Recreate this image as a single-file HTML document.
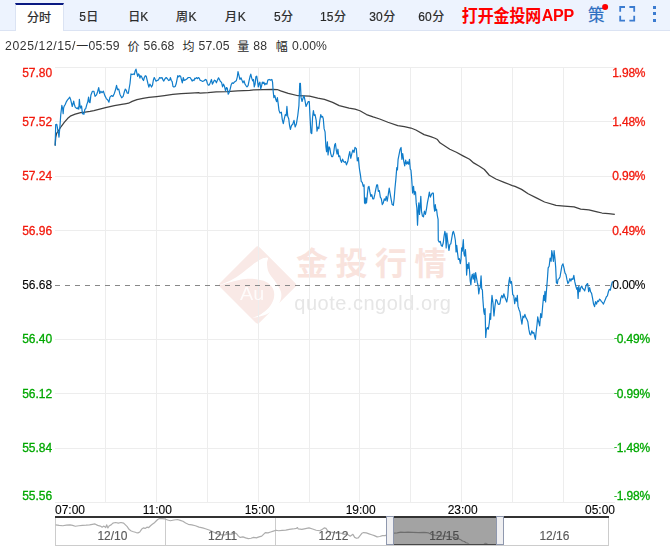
<!DOCTYPE html>
<html lang="zh"><head><meta charset="utf-8"><title>chart</title>
<style>
html,body{margin:0;padding:0;background:#fff}
body{width:670px;height:547px;position:relative;overflow:hidden;font-family:"Liberation Sans","Noto Sans CJK SC",sans-serif}
.hdr{position:absolute;left:0;top:0;width:670px;height:30px;background:#edf3fe;border-bottom:1px solid #dbe3f3}
.tab{position:absolute;left:15px;top:3px;width:47px;height:26px;background:#fff;border:1px solid #dbe3f3;border-top:2px solid #0a1a82;border-bottom:none}
.tl{position:absolute;left:0;top:0;width:670px;height:547px;will-change:transform}
.t{position:absolute;white-space:nowrap;line-height:14px;font-size:12px}
.ax{font-size:12px;-webkit-text-stroke:0.3px}
.hy{font-size:8px;position:relative;top:-2.2px;letter-spacing:0}
.pc{letter-spacing:-0.2px}
.xl{font-size:12px;-webkit-text-stroke:0.1px}
.r{color:#f21a0d} .g{color:#00a800} .k{color:#000;-webkit-text-stroke:0.1px}
.nv{color:#5a5a5a;font-size:12px;-webkit-text-stroke:0.15px}
.sel{color:#4c4c4c}
.hd{color:#2a2a2a;font-size:12px;letter-spacing:0.1px;-webkit-text-stroke:0.2px}
.inf{color:#333;font-size:12.2px;letter-spacing:0.1px;line-height:15px}
.app{color:#f00;font-weight:bold;font-size:16px;line-height:20px;letter-spacing:-0.2px}
.au{color:rgba(255,255,255,0.8);font-size:18px;line-height:18px;transform:scaleX(1.1);transform-origin:0 0}
.wm{color:#e6e6e6;font-size:20px;line-height:22px;letter-spacing:0.5px}
svg text{font-family:"Liberation Sans","Noto Sans CJK SC",sans-serif}
</style></head><body>
<div class="hdr"></div><div class="tab"></div>
<svg width="670" height="547" viewBox="0 0 670 547" style="position:absolute;left:0;top:0">
<g opacity="1">
<rect x="229.53" y="256.93" width="56.14" height="56.14" rx="3" transform="rotate(45 257.6 285)" fill="#f9e9e6"/>
<path d="M219.75 285.07C219.25 284.93 227.37 282.23 230.99 280.28C234.61 278.33 237.99 275.91 241.48 273.38C244.98 270.86 248.73 267.49 251.98 265.14C255.23 262.79 258.72 260.51 260.97 259.29C263.22 258.07 264.3 257.97 265.47 257.79C266.64 257.62 267.77 257.29 268.02 258.24C268.27 259.19 266.84 261.11 266.97 263.49C267.09 265.86 267.39 269.48 268.77 272.48C270.14 275.48 273.22 278.35 275.21 281.48C277.21 284.6 279.84 288.22 280.76 291.22C281.68 294.22 281.56 296.72 280.76 299.47C279.96 302.21 278.39 305.21 275.96 307.71C273.54 310.21 270.02 312.78 266.22 314.46C262.42 316.13 254.05 317.8 253.18 317.76C252.3 317.71 258.37 315.83 260.97 314.16C263.57 312.48 266.64 310.28 268.77 307.71C270.89 305.14 272.94 301.71 273.71 298.72C274.49 295.72 274.41 292.4 273.41 289.72C272.42 287.05 270.17 284.35 267.72 282.68C265.27 281 262.35 280.3 258.72 279.68C255.1 279.05 250.1 278.68 245.98 278.93C241.86 279.18 238.36 280.15 233.99 281.18C229.62 282.2 220.25 285.22 219.75 285.07Z" fill="#fff"/>
</g>
<text x="296" y="275" font-size="32" font-weight="bold" letter-spacing="7.5" fill="#f9e3dd">金投行情</text>
<path d="M55 67.5H614.5M55 121.5H614.5M55 176.5H614.5M55 230.5H614.5M55 339.5H614.5M55 393.5H614.5M55 448.5H614.5M55 502.5H614.5M105.5 67V503M156.5 67V503M207.5 67V503M258.5 67V503M309.5 67V503M359.5 67V503M410.5 67V503M461.5 67V503M512.5 67V503M563.5 67V503" stroke="#ededed" stroke-width="1" fill="none" shape-rendering="crispEdges"/>
<path d="M55 285.5H614.5" stroke="#888" stroke-width="1" stroke-dasharray="5 5" fill="none" shape-rendering="crispEdges"/>
<polyline points="55.15,145.63 55.7,137.74 56.58,133.36 58.22,131.16 60.96,126.78 64.25,122.4 67.53,118.56 70.82,115.82 75.21,114.18 80.68,112.53 85.07,112.21 90,111.44 93.88,110.56 105.58,107.63 114.35,105.73 123.13,104.12 125,103.79 128.58,103.19 132.16,101.4 136.94,99.61 142.91,98.42 148.88,97.46 156.64,96.63 164.4,95.67 172.76,94.48 181.12,93.64 190.67,93.04 199.03,92.69 200,93.16 208.06,92.63 216.12,91.82 226.87,91.55 237.61,90.88 249.7,90.48 253.73,89.94 263.13,89.67 272.54,89.27 277.24,89.54 280.6,90.88 288.23,93.28 298.1,95.74 309.62,96.07 317.84,98.21 324.42,99.36 332.65,102.33 339.23,105.62 349.1,108.08 355,109.11 359.94,110.76 366.52,114.54 373.1,116.85 379.68,118.99 387.91,122.28 397.78,125.57 404.36,126.72 410.94,128.03 415.88,130.01 424.1,134.62 430.69,136.59 435,138.23 437.47,139.54 439.94,142.83 444.87,145.96 449.81,149.25 456.39,152.21 462.97,155.83 469.55,159.29 473.67,162.91 479.42,166.2 484.36,169.49 489.3,175.25 495.88,179.03 504.1,182.32 512.33,185.61 515,186.42 521.57,189.37 528.13,193.81 536.34,197.91 544.55,202.01 556.04,205.3 564.25,206.12 574.1,206.94 580.67,209.07 588.88,209.9 597.09,211.87 602.01,213.01 608.58,213.51 614.82,214.33" fill="none" stroke="#404040" stroke-width="1.25" stroke-linejoin="round"/>
<polyline points="55.15,145.63 55.48,133.36 55.7,124.59 56.79,124.37 57.45,127.88 57.89,131.16 58.33,132.81 58.99,137.19 59.42,132.26 60.08,124.59 60.74,114.73 61.4,109.25 61.84,105.41 62.27,107.05 62.71,109.25 63.15,113.63 63.59,108.15 64.25,105.96 65.34,104.32 66.44,101.58 67.53,99.93 68.85,98.29 69.73,97.19 70.6,99.38 71.37,102.67 72.25,106.51 73.01,103.77 73.67,101.03 74.33,104.32 75.21,107.05 76.3,108.15 77.4,108.7 78.27,107.05 78.82,109.25 79.37,99.38 80.03,105.96 80.68,108.15 81.56,105.96 82.44,113.63 83.97,114.18 84.85,109.25 85.73,108.7 86.71,104.86 87.81,101.58 88.58,97.19 89.23,102.12 90,102.67 90.95,94.91 92.41,91.25 93.88,91.25 95.05,96.37 96.51,94.91 97.53,91.98 98.7,87.59 99.73,93.44 100.9,91.25 101.92,92.71 103.38,91.25 104.84,95.64 106.31,98.56 107.77,100.03 108.94,102.22 109.96,97.1 111.43,95.64 112.89,96.37 114.35,93.44 115.52,89.79 116.54,85.4 117.57,89.79 118.74,89.06 119.91,94.18 121.66,97.83 123.13,96.37 124.3,91.98 125.32,89.06 126.19,90.06 127.15,93.04 128.34,93.28 129.18,88.27 130.01,83.49 130.97,73.94 132.16,74.54 133.36,73.94 134.31,74.54 135.15,70.96 135.99,69.16 136.94,73.34 137.66,76.33 138.37,73.94 139.09,74.54 139.93,78.12 140.76,75.73 141.72,76.93 142.67,79.31 143.51,80.51 144.34,77.52 145.3,75.73 146.25,76.33 147.09,79.91 147.93,83.49 148.88,87.07 149.84,84.09 150.67,85.28 151.51,87.07 152.46,85.28 153.42,79.91 154.25,77.52 155.09,79.31 156.04,81.1 157.24,80.51 158.43,79.91 159.63,77.52 160.82,78.12 162.01,77.52 162.97,79.91 163.81,81.1 165,78.72 166.19,77.52 167.39,78.72 168.58,80.51 169.78,79.91 170.37,77.52 171.33,80.51 172.16,81.7 173,86.48 173.96,87.07 175.15,86.48 176.1,84.09 176.94,79.91 177.78,75.73 178.73,76.93 179.69,75.73 180.64,76.33 181.36,79.31 182.31,82.9 183.27,77.52 184.1,80.51 185.3,79.91 187.09,78.72 188.28,77.52 190.07,77.52 191.27,79.31 192.1,81.1 193.06,79.91 194.01,80.51 194.85,78.12 195.69,78.72 196.64,77.52 197.6,78.72 198.43,77.52 199.27,78.12 200,80.13 201.34,80.81 202.69,81.48 204.03,80.81 205.37,79.46 206.45,80.13 207.39,83.49 208.33,85.1 209.4,84.84 210.48,82.15 211.42,79.46 212.36,84.16 213.43,82.15 214.51,80.13 215.45,80.81 216.39,82.82 217.46,80.13 218.54,77.85 219.48,79.46 220.42,81.48 221.49,82.15 222.57,86.85 223.51,84.16 224.45,86.18 225.52,90.88 226.46,87.52 227.27,88.19 228.21,94.24 229.28,92.22 230.22,88.87 231.16,84.84 232.24,82.82 233.31,83.49 234.25,82.15 235.19,81.48 236.27,80.81 237.34,76.78 238.01,71.67 238.96,75.43 239.9,79.46 240.97,77.85 241.91,80.13 242.99,82.82 244.06,80.81 245,84.16 245.94,85.51 247.01,86.85 248.09,85.51 249.03,80.81 249.97,76.78 250.78,74.09 251.72,78.12 252.66,80.81 253.46,79.46 254.27,86.85 255.07,84.16 255.88,76.78 256.69,76.1 257.49,80.81 258.3,86.85 259.1,83.49 259.91,82.15 260.72,88.87 261.52,86.18 262.33,82.15 263.13,83.49 263.94,82.15 264.75,84.84 265.82,83.49 266.9,84.16 267.84,80.13 269.18,79.46 270.52,80.13 271.87,79.46 272.54,82.15 273.21,91.55 273.88,97.6 274.82,95.58 275.63,98.94 276.57,101.63 277.37,97.6 278.18,103.64 278.99,110.36 280,113.02 281.32,112.2 282.3,119.6 283.29,123.71 284.28,118.78 285.27,114.67 286.25,115.49 286.91,106.44 287.73,116.31 288.72,118.78 289.54,125.36 290.37,129.47 291.52,125.36 292.67,124.54 293.99,120.42 295.14,127.01 296.45,123.71 297.77,115.49 298.92,105.62 299.74,83.4 300.4,83.4 301.06,97.39 302.05,101.5 303.03,98.21 304.02,95.74 305.01,100.68 306,106.44 307.15,103.97 308.3,101.5 309.29,101.5 309.95,115.49 310.93,132.76 311.76,133.59 312.58,117.13 313.4,110.55 314.22,115.49 315.05,114.67 316.2,120.42 317.02,131.12 317.84,127.01 318.83,128.65 319.82,120.42 320.8,114.67 321.63,117.13 322.45,116.31 323.27,118.78 324.1,128.65 325.08,131.94 325.9,146.75 326.56,151.69 327.39,141.81 328.04,154.98 329.03,146.75 329.85,148.39 330.68,153.33 331.66,156.62 332.65,156.62 333.64,153.33 334.63,145.1 335.45,143.46 336.27,150.04 337.09,154.15 337.92,149.22 338.74,156.62 339.73,155.8 340.55,159.91 341.54,162.38 342.52,159.09 343.51,161.56 344.5,162.38 345.48,161.56 346.47,164.85 347.79,161.56 348.78,155.8 349.76,151.69 350.75,158.27 351.9,153.33 352.89,150.04 354.04,152.51 355,147.45 356.32,148.6 357.3,160.94 358.29,157.65 359.28,167.52 359.61,170 360.43,174.94 361.25,181.52 362.24,182.34 363.23,186.45 364.05,184.81 364.54,202.91 365.2,203.73 365.69,197.97 366.52,202.91 367.34,194.68 368.16,187.28 368.99,186.45 369.81,191.39 370.8,196.33 371.78,194.68 372.77,198.79 373.76,198.79 374.74,194.68 375.73,189.74 376.72,184.81 377.54,184.81 378.36,191.39 379.35,190.57 380.34,197.15 381.33,198.79 382.31,204.55 383.3,202.91 384.29,198.79 385.27,200.44 386.26,196.33 387.25,201.26 388.24,194.68 389.22,188.1 390.05,193.03 391.2,199.62 392.18,204.55 393.34,205.37 394.16,198.79 394.98,188.1 395.8,179.87 396.46,171.65 396.79,167.52 397.45,169.99 398.11,159.3 399.1,154.36 400.08,149.42 401.07,147.45 401.89,159.3 402.71,153.54 403.7,160.94 404.69,165.88 405.68,160.12 406.66,164.23 407.65,161.76 408.64,164.23 409.46,159.3 410.28,169.17 410.94,170 411.76,179.87 412.59,193.03 413.57,186.45 414.23,194.68 414.89,191.39 415.55,192.21 416.21,202.91 416.86,207.84 417.52,225.12 418.18,211.13 418.84,202.91 419.5,214.42 420.16,206.2 420.81,196.33 421.47,211.13 422.46,216.07 423.45,216.89 424.43,211.13 425.42,214.42 426.41,209.49 427.39,202.91 428.38,197.97 429.37,192.21 430.36,197.15 431.34,194.68 432.33,193.03 433.32,193.03 433.98,206.2 434.63,211.13 435.29,204.55 435.95,210.31 436.61,209.49 437.27,215.25 438.09,219.36 438.29,240.5 439.28,242.15 440.27,241.33 441.25,245.44 442.24,246.26 443.23,242.97 444.05,236.39 444.87,231.45 445.53,234.74 446.19,247.91 446.85,233.1 447.5,239.68 448.16,244.62 448.99,250.37 449.81,244.62 450.8,243.79 451.78,238.03 452.77,232.28 453.43,231.45 454.41,234.74 455.4,240.5 456.06,252.02 456.72,245.44 457.54,252.84 458.36,259.42 459.35,258.6 460.34,263.54 461,259.42 461.65,247.91 462.31,251.2 463.3,239.68 463.96,253.67 464.62,256.13 465.44,249.55 466.26,261.89 466.59,275.05 467.41,264.36 468.07,268.47 468.89,262.71 469.55,270.94 470.21,280.81 470.87,284.93 471.53,277.52 472.35,274.23 473.17,279.17 473.99,273.41 474.82,282.46 475.64,272.59 476.46,277.52 477.29,282.46 478.11,285.75 478.77,293.98 479.42,289.04 480.25,287.39 481.07,275.88 481.73,289.04 482.39,289.86 482.77,297.91 483.76,311.07 484.41,314.36 485.07,308.6 485.73,337.39 486.39,329.99 487.38,327.52 488.36,329.17 489.35,322.59 490.01,313.54 490.67,319.3 491.33,304.49 491.98,295.44 492.97,302.84 493.96,316.01 494.95,306.13 495.93,299.55 496.92,300.37 497.91,303.67 498.89,304.49 499.88,303.67 500.87,297.91 501.86,295.44 502.84,297.91 503.83,293.79 504.82,297.08 505.8,299.55 506.79,302.02 507.78,296.26 508.44,286.39 509.1,280.63 509.75,277.34 510.41,283.1 511.4,281.45 512.06,286.39 512.71,294.62 513.7,295.44 514.69,303.67 515.68,297.91 516.66,301.2 517.32,295.44 517.98,306.13 518.97,309.42 519.95,311.89 520.94,318.47 521.93,324.23 522.92,316.01 523.9,317.65 524.89,314.36 525.88,317.65 526.86,319.3 527.85,321.76 528.84,329.17 529.83,334.1 530.81,334.93 531.8,330.81 532.79,333.28 533.78,332.46 534.76,336.57 535.42,339.37 536.08,332.46 537.07,324.23 537.72,316.83 538.71,321.76 539.7,325.88 540.69,313.54 541.67,317.65 542.66,306.13 543.65,295.44 544.31,300.37 544.96,291.33 545.62,302.02 546.28,292.97 546.94,284.74 547.5,277.78 548.16,267.91 549.15,266.26 550.14,258.03 551.12,261.33 551.78,250.63 552.77,256.39 553.43,261.33 554.09,250.63 555.07,259.68 555.73,267.91 556.39,282.71 557.38,283.54 558.03,279.42 559.02,278.6 560.01,276.96 561,271.2 561.98,265.44 562.97,263.79 563.96,267.91 564.95,272.84 565.93,274.49 566.92,279.42 567.91,283.54 568.89,281.89 569.88,278.6 570.87,281.07 571.86,278.6 572.84,279.42 573.83,275.31 574.82,281.89 575.8,286.01 576.79,289.3 577.45,287.65 578.11,298.35 578.77,286.01 579.75,291.76 580.74,287.65 581.73,286.01 582.71,288.47 583.7,289.3 584.69,290.94 585.68,286.83 586.66,284.36 587.65,283.54 588.64,291.76 589.63,287.65 590.61,291.76 591.6,293.41 592.59,298.35 593.57,304.1 594.56,306.57 595.55,301.64 596.54,304.1 597.52,300.81 598.51,301.64 599.5,299.17 600.48,299.99 601.47,301.64 602.46,302.46 603.45,304.1 604.43,301.64 605.42,299.17 606.41,296.7 607.39,295.88 608.38,291.76 609.37,289.3 610.36,290.12 611.34,285.18 612.33,281.89 613.65,281.89" fill="none" stroke="#0f7cca" stroke-width="1.2" stroke-linejoin="round"/>
<rect x="55.5" y="517" width="553" height="28.5" fill="#fff" stroke="#ccc" stroke-width="1" shape-rendering="crispEdges"/>
<path d="M165.5 517V545.5" stroke="#ccc" stroke-width="1" shape-rendering="crispEdges"/>
<path d="M275.5 517V545.5" stroke="#ccc" stroke-width="1" shape-rendering="crispEdges"/>
<rect x="394" y="517" width="102.5" height="27.5" fill="#a3a3a3"/>
<path d="M394 544.5H496.5" stroke="#484848" stroke-width="1" shape-rendering="crispEdges"/>
<clipPath id="nc"><rect x="55" y="517" width="554" height="27.0"/></clipPath>
<clipPath id="ns"><rect x="394" y="517" width="102.5" height="26.7"/></clipPath>
<polyline clip-path="url(#nc)" points="55.58,524.85 59.16,525.39 62.75,525.75 66.33,525.21 69.91,524.85 72.6,525.39 75.28,526.28 78.87,525.75 82.45,525.39 86.03,525.21 89.61,524.85 92.3,524.31 94.99,523.96 97.67,525.39 100.36,526.1 102.15,527.18 103.94,526.1 105.73,527.54 106.63,524.85 107.88,527.9 109.31,525.75 111.1,524.85 112.9,523.06 115.58,522.52 118.27,523.06 120.96,522.52 123.64,523.06 125.43,524.85 127.22,526.64 129.01,529.33 130.81,530.76 132.6,531.48 134.39,532.01 136.18,532.55 137.97,532.91 139.76,532.01 141.55,529.33 143.34,527.9 145.13,528.43 146.93,527.18 148.72,527.54 150.51,525.75 152.3,524.31 154.09,523.06 155.88,521.27 157.67,519.48 159.46,518.58 162.15,518.58 164.84,518.94 165,518.94 167.69,520.01 170.37,520.73 173.96,520.01 177.54,519.48 180.22,520.37 182.91,521.27 185.6,523.06 188.28,524.31 191.87,524.85 195.45,525.75 199.03,527.18 202.61,527.9 206.19,528.97 209.78,530.22 213.36,532.01 216.94,533.81 220.52,534.7 224.1,535.06 227.69,533.81 231.27,534.34 234.85,532.91 236.64,533.81 238.43,536.13 240.22,537.39 242.91,536.85 245.6,537.93 248.28,538.64 250.97,538.28 253.66,537.39 256.34,537.93 259.03,536.85 261.72,536.13 263.51,534.34 265.3,532.55 267.99,532.91 270.67,532.01 273.36,531.12 276.04,530.22 278.58,530.76 282.16,530.4 285.75,530.04 289.33,529.33 292.91,528.97 296.49,528.43 297.39,527.54 298.28,528.97 301.87,529.33 305.45,528.61 309.03,527.9 312.61,528.97 316.19,530.22 319.78,530.76 322.46,529.33 324.25,527.9 326.04,528.43 327.84,531.12 330.52,532.01 334.1,532.55 337.69,532.91 341.27,533.27 343.96,534.34 346.64,533.81 348.43,535.06 350.22,536.13 352.91,534.34 354.7,537.39 356.49,538.28 358.28,537.93 360.07,535.6 361.87,533.27 363.66,532.55 366.34,532.91 369.03,533.81 371.72,534.7 374.4,535.6 377.09,536.85 379.78,536.49 382.46,535.6 385.15,535.6 390,533.63 393.58,533.27 397.16,532.91 400.75,532.19 404.33,532.37 407.91,532.19 413.28,532.37 418.66,532.55 424.03,532.37 428.51,532.91 431.19,534.34 434.78,535.06 440.15,535.78 445.52,536.13 450.9,536.85 455.37,537.39 458.06,538.64 460.75,539.72 462.54,540.97 464.33,541.51 466.12,542.76 467.91,543.3 469.7,545.09 474.18,547.24 479.55,546.88 483.13,545.45 484.93,543.3 486.72,543.66 488.15,544.73 492.99,545.81 499.25,545.45 504.63,544.55 509.1,545.09" fill="none" stroke="#adadad" stroke-width="1.2" stroke-linejoin="round"/>
<polyline clip-path="url(#ns)" points="55.58,524.85 59.16,525.39 62.75,525.75 66.33,525.21 69.91,524.85 72.6,525.39 75.28,526.28 78.87,525.75 82.45,525.39 86.03,525.21 89.61,524.85 92.3,524.31 94.99,523.96 97.67,525.39 100.36,526.1 102.15,527.18 103.94,526.1 105.73,527.54 106.63,524.85 107.88,527.9 109.31,525.75 111.1,524.85 112.9,523.06 115.58,522.52 118.27,523.06 120.96,522.52 123.64,523.06 125.43,524.85 127.22,526.64 129.01,529.33 130.81,530.76 132.6,531.48 134.39,532.01 136.18,532.55 137.97,532.91 139.76,532.01 141.55,529.33 143.34,527.9 145.13,528.43 146.93,527.18 148.72,527.54 150.51,525.75 152.3,524.31 154.09,523.06 155.88,521.27 157.67,519.48 159.46,518.58 162.15,518.58 164.84,518.94 165,518.94 167.69,520.01 170.37,520.73 173.96,520.01 177.54,519.48 180.22,520.37 182.91,521.27 185.6,523.06 188.28,524.31 191.87,524.85 195.45,525.75 199.03,527.18 202.61,527.9 206.19,528.97 209.78,530.22 213.36,532.01 216.94,533.81 220.52,534.7 224.1,535.06 227.69,533.81 231.27,534.34 234.85,532.91 236.64,533.81 238.43,536.13 240.22,537.39 242.91,536.85 245.6,537.93 248.28,538.64 250.97,538.28 253.66,537.39 256.34,537.93 259.03,536.85 261.72,536.13 263.51,534.34 265.3,532.55 267.99,532.91 270.67,532.01 273.36,531.12 276.04,530.22 278.58,530.76 282.16,530.4 285.75,530.04 289.33,529.33 292.91,528.97 296.49,528.43 297.39,527.54 298.28,528.97 301.87,529.33 305.45,528.61 309.03,527.9 312.61,528.97 316.19,530.22 319.78,530.76 322.46,529.33 324.25,527.9 326.04,528.43 327.84,531.12 330.52,532.01 334.1,532.55 337.69,532.91 341.27,533.27 343.96,534.34 346.64,533.81 348.43,535.06 350.22,536.13 352.91,534.34 354.7,537.39 356.49,538.28 358.28,537.93 360.07,535.6 361.87,533.27 363.66,532.55 366.34,532.91 369.03,533.81 371.72,534.7 374.4,535.6 377.09,536.85 379.78,536.49 382.46,535.6 385.15,535.6 390,533.63 393.58,533.27 397.16,532.91 400.75,532.19 404.33,532.37 407.91,532.19 413.28,532.37 418.66,532.55 424.03,532.37 428.51,532.91 431.19,534.34 434.78,535.06 440.15,535.78 445.52,536.13 450.9,536.85 455.37,537.39 458.06,538.64 460.75,539.72 462.54,540.97 464.33,541.51 466.12,542.76 467.91,543.3 469.7,545.09 474.18,547.24 479.55,546.88 483.13,545.45 484.93,543.3 486.72,543.66 488.15,544.73 492.99,545.81 499.25,545.45 504.63,544.55 509.1,545.09" fill="none" stroke="#6e6e6e" stroke-width="1.2" stroke-linejoin="round"/>
<path d="M55 517H609" stroke="#333" stroke-width="2" shape-rendering="crispEdges"/>
<rect x="386.5" y="516.5" width="7" height="28" fill="#efeff1" stroke="#8f98ae" stroke-width="1"/>
<rect x="496.5" y="516.5" width="7" height="28" fill="#efeff1" stroke="#8f98ae" stroke-width="1"/>
<text x="27" y="21.9" font-size="12" fill="#2a2a2a" stroke="#2a2a2a" stroke-width="0.25">分时</text>
<text x="86.2" y="21.3" font-size="12" fill="#2a2a2a" stroke="#2a2a2a" stroke-width="0.25">日</text>
<text x="128.2" y="21.3" font-size="12" fill="#2a2a2a" stroke="#2a2a2a" stroke-width="0.25">日</text>
<text x="176" y="21.3" font-size="12" fill="#2a2a2a" stroke="#2a2a2a" stroke-width="0.25">周</text>
<text x="225" y="21.3" font-size="12" fill="#2a2a2a" stroke="#2a2a2a" stroke-width="0.25">月</text>
<text x="281" y="21.3" font-size="12" fill="#2a2a2a" stroke="#2a2a2a" stroke-width="0.25">分</text>
<text x="334" y="21.3" font-size="12" fill="#2a2a2a" stroke="#2a2a2a" stroke-width="0.25">分</text>
<text x="383.3" y="21.3" font-size="12" fill="#2a2a2a" stroke="#2a2a2a" stroke-width="0.25">分</text>
<text x="432.2" y="21.3" font-size="12" fill="#2a2a2a" stroke="#2a2a2a" stroke-width="0.25">分</text>
<g transform="translate(0 15.2) scale(1 1.06) translate(0 -15.2)">
<text x="461.8" y="21.2" font-size="16" font-weight="bold" letter-spacing="-0.1" fill="#f00">打开金投网</text>
</g>
<text x="588" y="21" font-size="16.5" fill="#2f6fc1" stroke="#2f6fc1" stroke-width="0.2">策</text>
<circle cx="605.1" cy="7" r="3" fill="#f00"/>
<path d="M620.2 11.8V7H625M629.4 7H634.2V11.8M634.2 15.8V20.6H629.4M625 20.6H620.2V15.8" fill="none" stroke="#3b7bd0" stroke-width="1.8"/>
<rect x="653" y="5.5" width="3" height="3" fill="#3b7bd0" shape-rendering="crispEdges"/>
<rect x="653" y="12" width="3" height="3" fill="#3b7bd0" shape-rendering="crispEdges"/>
<rect x="653" y="18.5" width="3" height="3" fill="#3b7bd0" shape-rendering="crispEdges"/>
<text x="76.2" y="50.5" font-size="12" fill="#2a2a2a">一</text>
<text x="127.5" y="50.5" font-size="12" fill="#2a2a2a">价</text>
<text x="182.4" y="50.5" font-size="12" fill="#2a2a2a">均</text>
<text x="237.3" y="50.5" font-size="12" fill="#2a2a2a">量</text>
<text x="275.8" y="50.5" font-size="12" fill="#2a2a2a">幅</text>
</svg>
<div class="tl">
<div class="t r ax" style="right:617.8px;top:65.6px;">57.80</div>
<div class="t r ax pc" style="left:612.3px;top:65.6px;">1.98%</div>
<div class="t r ax" style="right:617.8px;top:114.6px;">57.52</div>
<div class="t r ax pc" style="left:612.3px;top:114.6px;">1.48%</div>
<div class="t r ax" style="right:617.8px;top:168.6px;">57.24</div>
<div class="t r ax pc" style="left:612.3px;top:168.6px;">0.99%</div>
<div class="t r ax" style="right:617.8px;top:223.6px;">56.96</div>
<div class="t r ax pc" style="left:612.3px;top:223.6px;">0.49%</div>
<div class="t k ax" style="right:617.8px;top:277.6px;">56.68</div>
<div class="t k ax pc" style="left:612.3px;top:277.6px;">0.00%</div>
<div class="t g ax" style="right:617.8px;top:331.6px;">56.40</div>
<div class="t g ax pc" style="left:614.2px;top:331.6px;"><span class="hy">-</span>0.49%</div>
<div class="t g ax" style="right:617.8px;top:386.6px;">56.12</div>
<div class="t g ax pc" style="left:614.2px;top:386.6px;"><span class="hy">-</span>0.99%</div>
<div class="t g ax" style="right:617.8px;top:440.6px;">55.84</div>
<div class="t g ax pc" style="left:614.2px;top:440.6px;"><span class="hy">-</span>1.48%</div>
<div class="t g ax" style="right:617.8px;top:488.8px;">55.56</div>
<div class="t g ax pc" style="left:614.2px;top:488.8px;"><span class="hy">-</span>1.98%</div>
<div class="t k xl" style="left:55px;top:502.7px;">07:00</div>
<div class="t k xl" style="left:142.7px;top:502.7px;">11:00</div>
<div class="t k xl" style="left:244.7px;top:502.7px;">15:00</div>
<div class="t k xl" style="left:345.7px;top:502.7px;">19:00</div>
<div class="t k xl" style="left:447.7px;top:502.7px;">23:00</div>
<div class="t k xl" style="right:55px;top:502.7px;">05:00</div>
<div class="t nv" style="left:97.4px;top:528.7px;">12/10</div>
<div class="t nv" style="left:208.0px;top:528.7px;">12/11</div>
<div class="t nv" style="left:318.4px;top:528.7px;">12/12</div>
<div class="t nv sel" style="left:429.2px;top:528.7px;">12/15</div>
<div class="t nv" style="left:539.4px;top:528.7px;">12/16</div>
<div class="t hd" style="left:79.2px;top:9.6px;">5</div>
<div class="t hd" style="left:140.3px;top:9.6px;">K</div>
<div class="t hd" style="left:188.5px;top:9.6px;">K</div>
<div class="t hd" style="left:237.7px;top:9.6px;">K</div>
<div class="t hd" style="left:274px;top:9.6px;">5</div>
<div class="t hd" style="left:320px;top:9.6px;">15</div>
<div class="t hd" style="left:369.3px;top:9.6px;">30</div>
<div class="t hd" style="left:418.2px;top:9.6px;">60</div>
<div class="t app" style="left:541.7px;top:5.6px;">APP</div>
<div class="t au" style="left:240.3px;top:285px;">Au</div>
<div class="t wm" style="left:294.3px;top:292.3px;">quote.cngold.org</div>
<div class="t inf" style="left:5px;top:38.5px;letter-spacing:0.6px">2025/12/15/</div>
<div class="t inf" style="left:88.6px;top:38.5px;">05:59</div>
<div class="t inf" style="left:143.5px;top:38.5px;">56.68</div>
<div class="t inf" style="left:198.6px;top:38.5px;">57.05</div>
<div class="t inf" style="left:253.3px;top:38.5px;">88</div>
<div class="t inf" style="left:292px;top:38.5px;">0.00%</div>
</div>
</body></html>
